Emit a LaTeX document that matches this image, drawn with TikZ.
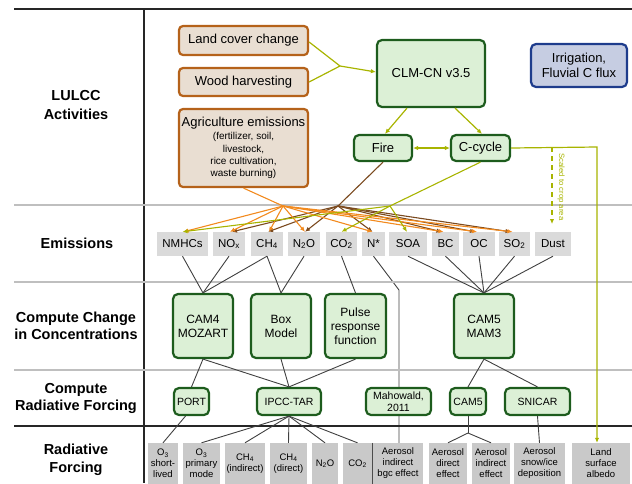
\documentclass[tikz,border=0pt]{standalone}
\usepackage{fontspec}
\setmainfont{Liberation Sans}
\usetikzlibrary{arrows.meta,calc}
\pgfdeclarelayer{bg}
\pgfsetlayers{bg,main}
\definecolor{ygreen}{HTML}{A8B400}
\definecolor{orng}{HTML}{F28A1E}
\definecolor{brwn}{HTML}{7B4A1F}
\definecolor{gborder}{HTML}{1D5C1D}
\definecolor{gfill}{HTML}{DCF0D6}
\definecolor{bborder}{HTML}{B5621A}
\definecolor{bfill}{HTML}{E9DED2}
\definecolor{blborder}{HTML}{1E3C8C}
\definecolor{blfill}{HTML}{C6CDE2}
\definecolor{emfill}{HTML}{DADADA}
\definecolor{rffill}{HTML}{C9C9C9}
\definecolor{lgray}{HTML}{404040}
\definecolor{sepgray}{HTML}{BFBFBF}
\tikzset{
  beigebox/.style={draw=bborder, fill=bfill, line width=2.2pt, rounded corners=4pt, align=center, inner sep=0pt},
  gbox/.style={draw=gborder, fill=gfill, line width=2.2pt, rounded corners=5pt, align=center, inner sep=0pt},
  bluebox/.style={draw=blborder, fill=blfill, line width=2.2pt, rounded corners=5pt, align=center, inner sep=0pt},
  embox/.style={fill=emfill, minimum height=24pt, inner sep=0pt, font=\fontsize{11.5}{13}\selectfont},
  rfbox/.style={fill=rffill, minimum height=41pt, inner sep=0pt, align=center, font=\fontsize{9.5}{11}\selectfont},
  rowlabel/.style={align=center, font=\bfseries\fontsize{14.5}{17}\selectfont},
  conn/.style={lgray, line width=0.9pt},
  yg/.style={ygreen, line width=1.2pt},
  orl/.style={orng, line width=1.1pt, -{Latex[length=5pt,width=4.5pt]}},
  brl/.style={brwn, line width=1.1pt, -{Latex[length=5pt,width=4.5pt]}},
  ygl/.style={ygreen, line width=1.1pt, -{Latex[length=5pt,width=4.5pt]}},
  tip/.style={-{Latex[length=5pt,width=4.5pt]}},
}
\begin{document}
\begin{tikzpicture}[x=1pt,y=-1pt]
\useasboundingbox (0,0) rectangle (632,483);
% frame lines
\draw[line width=1.6pt, black!85] (14,9) -- (632,9);
\draw[line width=1.6pt, black!85] (144,9) -- (144,483);
\draw[sepgray, line width=1.2pt] (14,205) -- (632,205);
\draw[sepgray, line width=1.2pt] (14,282) -- (632,282);
\draw[sepgray, line width=1.2pt] (14,370) -- (632,370);
\draw[line width=1.6pt, black!85] (14,426) -- (632,426);

% row labels
\node[rowlabel, font=\bfseries\fontsize{14.5}{19}\selectfont] (l1) at (76,105.5) {LULCC\\Activities};
\node[rowlabel] (l2) at (77,243) {Emissions};
\node[rowlabel] (l3) at (76,325.5) {Compute Change\\in Concentrations};
\node[rowlabel] (l4) at (76,398.5) {Compute\\Radiative Forcing};
\node[rowlabel, font=\bfseries\fontsize{14.5}{18}\selectfont] (l5) at (76,459.5) {Radiative\\Forcing};

% LULCC boxes
\node[beigebox, minimum width=129pt, minimum height=29pt, font=\fontsize{13}{15}\selectfont] (lcc) at (243.5,40.5) {Land cover change};
\node[beigebox, minimum width=129pt, minimum height=28pt, font=\fontsize{13}{15}\selectfont] (wh) at (243.5,82) {Wood harvesting};
\node[beigebox, minimum width=129pt, minimum height=78pt, font=\fontsize{10}{12.3}\selectfont] (agr) at (243.5,148)
  {{\fontsize{13}{15}\selectfont Agriculture emissions}\\[1pt](fertilizer, soil,\\livestock,\\rice cultivation,\\waste burning)};
\node[gbox, minimum width=108pt, minimum height=67pt, font=\fontsize{13}{15}\selectfont] (clm) at (431,73.5) {CLM-CN v3.5};
\node[bluebox, minimum width=96pt, minimum height=43pt, font=\fontsize{13}{15.5}\selectfont] (irr) at (579,65.5) {Irrigation,\\Fluvial C flux};
\node[gbox, minimum width=58pt, minimum height=26pt, font=\fontsize{13}{15}\selectfont] (fire) at (383,148) {Fire};
\node[gbox, minimum width=59pt, minimum height=26pt, font=\fontsize{13}{15}\selectfont] (ccyc) at (480.5,148) {C-cycle};

% emissions
\node[embox, minimum width=51pt] (nmhc) at (182.5,244) {NMHCs};
\node[embox, minimum width=32pt] (nox) at (229,244) {NO\textsubscript{x}};
\node[embox, minimum width=32pt] (ch4) at (267,244) {CH\textsubscript{4}};
\node[embox, minimum width=32pt] (n2o) at (304,244) {N\textsubscript{2}O};
\node[embox, minimum width=31pt] (co2) at (341.5,244) {CO\textsubscript{2}};
\node[embox, minimum width=23pt] (nstar) at (373.5,244) {N*};
\node[embox, minimum width=38pt] (soa) at (408,244) {SOA};
\node[embox, minimum width=27pt] (bc) at (445.5,244) {BC};
\node[embox, minimum width=32pt] (oc) at (479,244) {OC};
\node[embox, minimum width=31pt] (so2) at (514.5,244) {SO\textsubscript{2}};
\node[embox, minimum width=36pt] (dust) at (553,244) {Dust};

% concentration models
\node[gbox, minimum width=60pt, minimum height=64pt, font=\fontsize{12}{14}\selectfont] (cam4) at (203,326) {CAM4\\MOZART};
\node[gbox, minimum width=60pt, minimum height=64pt, font=\fontsize{12}{14}\selectfont] (boxm) at (281,326) {Box\\Model};
\node[gbox, minimum width=61pt, minimum height=64pt, font=\fontsize{12}{14}\selectfont] (pulse) at (355.5,326) {Pulse\\response\\function};
\node[gbox, minimum width=60pt, minimum height=64pt, font=\fontsize{12}{14}\selectfont] (cam5m) at (484,326) {CAM5\\MAM3};

% radiative forcing models
\node[gbox, minimum width=35pt, minimum height=27pt, font=\fontsize{10.5}{12}\selectfont] (port) at (191.5,401.5) {PORT};
\node[gbox, minimum width=64pt, minimum height=27pt, font=\fontsize{10.5}{12}\selectfont] (ipcc) at (289,401.5) {IPCC-TAR};
\node[gbox, minimum width=65pt, minimum height=27pt, font=\fontsize{10.5}{12}\selectfont] (mah) at (398.5,401.5) {Mahowald,\\2011};
\node[gbox, minimum width=36pt, minimum height=27pt, font=\fontsize{10.5}{12}\selectfont] (cam5) at (468,401.5) {CAM5};
\node[gbox, minimum width=65pt, minimum height=27pt, font=\fontsize{10.5}{12}\selectfont] (snicar) at (537.5,401.5) {SNICAR};

% radiative forcing boxes
\node[rfbox, minimum width=30pt] (o3s) at (163,463.5) {O\textsubscript{3}\\short-\\lived};
\node[rfbox, minimum width=37pt] (o3p) at (201.5,463.5) {O\textsubscript{3}\\primary\\mode};
\node[rfbox, minimum width=40pt] (ch4i) at (245,463.5) {CH\textsubscript{4}\\(indirect)};
\node[rfbox, minimum width=37pt] (ch4d) at (288.5,463.5) {CH\textsubscript{4}\\(direct)};
\node[rfbox, minimum width=26pt] (n2ob) at (325,463.5) {N\textsubscript{2}O};
\node[rfbox, minimum width=29pt] (co2b) at (357.5,463.5) {CO\textsubscript{2}};
\node[rfbox, minimum width=50pt] (abgc) at (398,463.5) {Aerosol\\indirect\\bgc effect};
\node[rfbox, minimum width=38pt] (adir) at (448,463.5) {Aerosol\\direct\\effect};
\node[rfbox, minimum width=38pt] (aind) at (491,463.5) {Aerosol\\indirect\\effect};
\node[rfbox, minimum width=51pt] (asnow) at (539.5,463.5) {Aerosol\\snow/ice\\deposition};
\node[rfbox, minimum width=58pt] (lsa) at (601,463.5) {Land\\surface\\albedo};
\draw[gray!60!black, line width=0.8pt] (abgc.north west) -- (abgc.south west);

% LULCC -> CLM
\coordinate (j1) at (340,66);
\draw[yg] ($(lcc.east)+(0,1.5)$) -- (j1);
\draw[yg] (wh.east) -- (j1);
\draw[yg, tip] (j1) -- ($(clm.west)+(0,-1.5)$);
\draw[yg, tip] ($(clm.south)+(-24,0)$) -- ($(fire.north)+(2,0)$);
\draw[yg, tip] ($(clm.south)+(24,0)$) -- ($(ccyc.north)+(1.5,0)$);
\draw[yg, {Latex[length=5pt,width=4.5pt]}-{Latex[length=5pt,width=4.5pt]}] (fire.east) -- (ccyc.east -| ccyc.west);

% C-cycle -> land surface albedo
\coordinate (cr) at (597,147);
\draw[yg, tip] (ccyc.east) -- (cr) -- (cr |- lsa.north);
\coordinate (ds) at (552,147);
\coordinate (de) at (552,224);
\draw[ygreen, line width=1.1pt, dashed, dash pattern=on 5pt off 4pt, tip] (ds) -- (de);
\node[ygreen, rotate=-90, font=\fontsize{7.7}{9}\selectfont] (scl) at (561,187) {Scaled to crop area};

% emission arrows
\coordinate (ja) at (283,206);
\coordinate (jf) at (338,206);
\coordinate (jc) at (390,206);
\draw[orng, line width=1.1pt] ($(agr.south)+(0,0)$) -- (ja);
\draw[brwn, line width=1.1pt] (fire.south) -- (jf);
\draw[ygreen, line width=1.1pt] (ccyc.south) -- (jc);

\draw[brl] (jf) -- ($(nox.north)+(3,0)$);
\draw[brl] (jf) -- ($(ch4.north)+(1,0)$);
\draw[brl] (jf) -- ($(n2o.north)+(1,0)$);
\draw[brl] (jf) -- ($(nstar.north)+(-1,0)$);
\draw[brl] (jf) -- ($(bc.north)+(-4,0)$);
\draw[brl] (jf) -- ($(oc.north)+(-4,0)$);
\draw[brl] (jf) -- ($(so2.north)+(-4,0)$);

\draw[orl] (ja) -- ($(nmhc.north)+(1,0)$);
\draw[orl] (ja) -- ($(nox.north)+(1,0)$);
\draw[orl] (ja) -- ($(ch4.north)+(2,0)$);
\draw[orl] (ja) -- ($(n2o.north)+(1,0)$);
\draw[orl] (ja) -- ($(nstar.north)+(-1,0)$);
\draw[orl] (ja) -- ($(bc.north)+(-2,0)$);
\draw[orl] (ja) -- ($(oc.north)+(-2,0)$);
\draw[orl] (ja) -- ($(so2.north)+(-2,0)$);

\draw[ygl] (jc) -- ($(nmhc.north)+(0,0)$);
\draw[ygl] (jc) -- ($(co2.north)+(0,0)$);
\draw[ygl] (jc) -- ($(soa.north)+(-1,0)$);

% emissions -> concentrations
\draw[conn] (nmhc.south) -- (cam4.north);
\draw[conn] (nox.south) -- (cam4.north);
\draw[conn] (ch4.south) -- (cam4.north);
\draw[conn] (ch4.south) -- (boxm.north);
\draw[conn] (n2o.south) -- (boxm.north);
\draw[conn] (co2.south) -- (pulse.north);
\begin{pgfonlayer}{bg}
\coordinate (nb) at (399,290);
\draw[conn] (nstar.south) -- (nb) -- (nb |- abgc.north);
\end{pgfonlayer}
\draw[conn] (soa.south) -- (cam5m.north);
\draw[conn] (bc.south) -- (cam5m.north);
\draw[conn] (oc.south) -- (cam5m.north);
\draw[conn] (so2.south) -- (cam5m.north);
\draw[conn] (dust.south) -- (cam5m.north);

% concentrations -> RF models
\draw[conn] (cam4.south) -- (port.north);
\draw[conn] (cam4.south) -- (ipcc.north);
\draw[conn] (boxm.south) -- (ipcc.north);
\draw[conn] (pulse.south) -- (ipcc.north);
\draw[conn] (cam5m.south) -- (cam5.north);
\draw[conn] (cam5m.south) -- (snicar.north);

% RF models -> RF
\draw[conn] ($(port.south)+(-6,0)$) -- (o3s.north);
\draw[conn] (ipcc.south) -- (o3p.north);
\draw[conn] (ipcc.south) -- (ch4i.north);
\draw[conn] (ipcc.south) -- (ch4d.north);
\draw[conn] (ipcc.south) -- (n2ob.north);
\draw[conn] (ipcc.south) -- (co2b.north);
\coordinate (jcam) at (468,433);
\draw[conn] (cam5.south) -- (jcam);
\draw[conn] (jcam) -- (adir.north);
\draw[conn] (jcam) -- (aind.north);
\draw[conn] (snicar.south) -- (asnow.north);
\end{tikzpicture}
\end{document}
